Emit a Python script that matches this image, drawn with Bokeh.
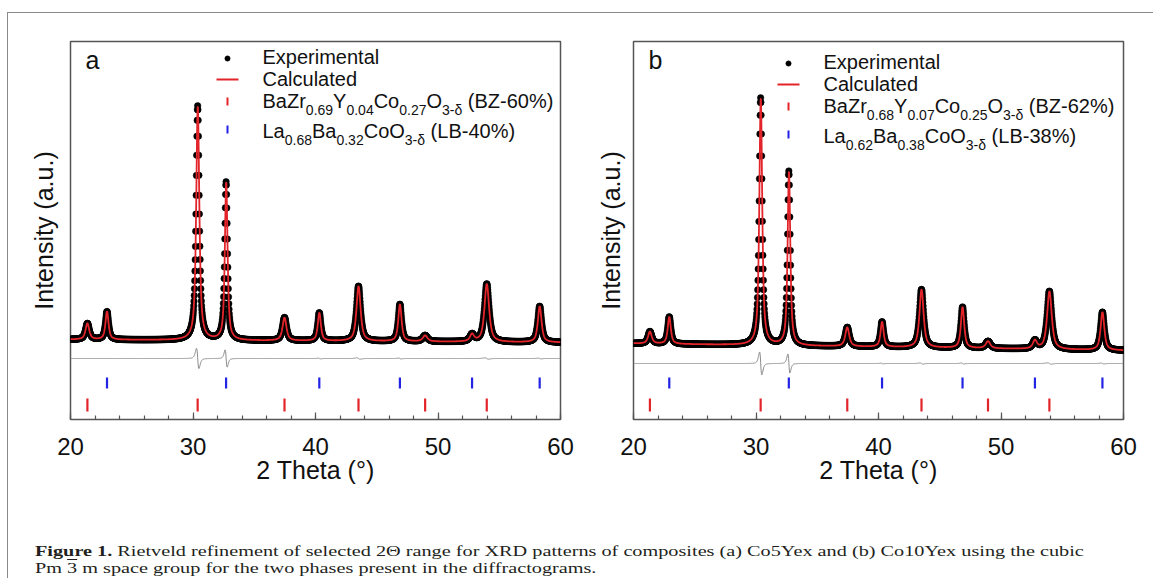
import numpy as np
from bokeh.plotting import figure
from bokeh.models import Range1d, FixedTicker, Div
from bokeh.layouts import row, column
from bokeh.core.properties import value
from bokeh.embed import file_html
from bokeh.resources import INLINE

# ------------------------------------------------------------------ data
two_theta_start, two_theta_end, two_theta_step = 20.0, 60.0, 0.02
x_ticks = [20, 30, 40, 50, 60]
x_minor_ticks = list(range(20, 61, 2))

# panel a : Co5Yex  (peak position [deg], height above background [a.u.], FWHM [deg])
a_bz_pos = [21.38, 30.38, 37.47, 43.51, 48.95, 53.98]
a_bz_height = [16, 234, 23, 55, 6, 58]
a_bz_fwhm = [0.36, 0.30, 0.38, 0.40, 0.45, 0.45]
a_bz_misfit = [0.0, 0.010, 0.0, 0.004, 0.0, 0.004]
a_lb_pos = [22.98, 32.70, 40.31, 46.89, 52.78, 58.30]
a_lb_height = [28, 158, 28, 37, 7, 36]
a_lb_fwhm = [0.30, 0.26, 0.30, 0.32, 0.40, 0.36]
a_lb_misfit = [0.0, 0.011, 0.003, 0.003, 0.0, 0.003]
a_background = [0.0, -3.0]          # at 20 deg and 60 deg
a_diff_offset = -19.0

# panel b : Co10Yex
b_bz_pos = [21.34, 30.38, 37.45, 43.51, 48.94, 53.95]
b_bz_height = [12, 247, 19, 58, 7, 58]
b_bz_fwhm = [0.36, 0.28, 0.38, 0.40, 0.45, 0.45]
b_bz_misfit = [0.0, 0.010, 0.0, 0.003, 0.0, 0.004]
b_lb_pos = [22.92, 32.68, 40.29, 46.86, 52.77, 58.28]
b_lb_height = [27, 174, 25, 41, 8, 38]
b_lb_fwhm = [0.30, 0.26, 0.30, 0.32, 0.40, 0.36]
b_lb_misfit = [0.0, 0.011, 0.003, 0.003, 0.0, 0.003]
b_background = [-4.0, -11.0]
b_diff_offset = -24.0

# legend texts (text piece, is_subscript)
a_bz_label = [("BaZr", 0), ("0.69", 1), ("Y", 0), ("0.04", 1), ("Co", 0), ("0.27", 1), ("O", 0), ("3-δ", 1), (" (BZ-60%)", 0)]
a_lb_label = [("La", 0), ("0.68", 1), ("Ba", 0), ("0.32", 1), ("CoO", 0), ("3-δ", 1), (" (LB-40%)", 0)]
b_bz_label = [("BaZr", 0), ("0.68", 1), ("Y", 0), ("0.07", 1), ("Co", 0), ("0.25", 1), ("O", 0), ("3-δ", 1), (" (BZ-62%)", 0)]
b_lb_label = [("La", 0), ("0.62", 1), ("Ba", 0), ("0.38", 1), ("CoO", 0), ("3-δ", 1), (" (LB-38%)", 0)]

caption_line1 = ("Rietveld refinement of selected 2Θ range for XRD patterns of composites "
                 "(a) Co5Yex and (b) Co10Yex using the cubic")
caption_line2 = "space group for the two phases present in the diffractograms."

# ------------------------------------------------------------------ style
FONT = "Liberation Sans"
RED = "#e3252b"
BLUE = "#2323e6"
FRAME = "#555555"
FRAME_W, FRAME_H = 490, 378
Y_START, Y_END = -80.0, 298.0
PX_PER_DEG = FRAME_W / (two_theta_end - two_theta_start)
LEG_FS, SUB_FS = 20, 14
MID = 0.3465   # em-box middle above the alphabetic baseline

EM = {' ': 0.278, '(': 0.333, ')': 0.333, '-': 0.333, '.': 0.278, '%': 0.889,
      'B': 0.667, 'Z': 0.611, 'Y': 0.667, 'C': 0.722, 'O': 0.778, 'L': 0.556,
      'E': 0.667, 'a': 0.556, 'r': 0.333, 'o': 0.556, 'x': 0.5, 'p': 0.556,
      'e': 0.556, 'i': 0.222, 'm': 0.833, 'n': 0.556, 't': 0.278, 'l': 0.222,
      'c': 0.5, 'u': 0.556, 'd': 0.556, 'δ': 0.556}


def text_width(s, fs):
    return sum(EM.get(ch, 0.556) for ch in s) * fs


def profile(x, pos, height, fwhm, shift=None, eta=0.75):
    y = np.zeros_like(x)
    for i, (p0, h, w) in enumerate(zip(pos, height, fwhm)):
        c = p0 + (shift[i] if shift is not None else 0.0)
        u = (x - c) / w
        y += h * (eta / (1 + 4 * u ** 2) + (1 - eta) * np.exp(-4 * np.log(2) * u ** 2))
    return y


def make_panel(letter, bz, lb, background, diff_offset, bz_label, lb_label,
               border_left, border_right, ylab_standoff, legend_dy, mx, tx):
    (bz_pos, bz_h, bz_w, bz_mis) = bz
    (lb_pos, lb_h, lb_w, lb_mis) = lb
    x = np.arange(two_theta_start, two_theta_end + 1e-9, two_theta_step)
    bg = np.interp(x, [two_theta_start, two_theta_end], background)
    y_exp = bg + profile(x, bz_pos, bz_h, bz_w) + profile(x, lb_pos, lb_h, lb_w)
    y_calc = bg + profile(x, bz_pos, bz_h, bz_w, bz_mis) + profile(x, lb_pos, lb_h, lb_w, lb_mis)
    y_diff = y_exp - y_calc + diff_offset

    p = figure(frame_width=FRAME_W, frame_height=FRAME_H,
               x_range=Range1d(two_theta_start, two_theta_end),
               y_range=Range1d(Y_START, Y_END),
               output_backend="svg", toolbar_location=None,
               min_border_left=border_left, min_border_right=border_right,
               min_border_top=28, min_border_bottom=78)
    p.grid.visible = False
    p.outline_line_color = FRAME
    p.outline_line_width = 1.5
    p.background_fill_color = "white"
    p.border_fill_color = "white"

    xa = p.xaxis[0]
    xa.ticker = FixedTicker(ticks=x_ticks, minor_ticks=x_minor_ticks)
    xa.axis_line_color = None
    xa.major_tick_in = 7
    xa.major_tick_out = 0
    xa.minor_tick_in = 4
    xa.minor_tick_out = 0
    xa.major_tick_line_color = FRAME
    xa.major_tick_line_width = 1.2
    xa.minor_tick_line_color = FRAME
    xa.minor_tick_line_width = 1.2
    xa.major_label_text_font = FONT
    xa.major_label_text_font_size = "24px"
    xa.major_label_text_color = "#111111"
    xa.major_label_standoff = 18
    xa.axis_label = "2 Theta (°)"
    xa.axis_label_text_font = FONT
    xa.axis_label_text_font_size = "25px"
    xa.axis_label_text_font_style = "normal"
    xa.axis_label_text_color = "#111111"
    xa.axis_label_standoff = -2

    ya = p.yaxis[0]
    ya.ticker = FixedTicker(ticks=[])
    ya.axis_line_color = None
    ya.major_tick_line_color = None
    ya.minor_tick_line_color = None
    ya.major_label_standoff = 0
    ya.major_tick_out = 0
    ya.axis_label = "Intensity (a.u.)"
    ya.axis_label_text_font = FONT
    ya.axis_label_text_font_size = "25px"
    ya.axis_label_text_font_style = "normal"
    ya.axis_label_text_color = "#111111"
    ya.axis_label_standoff = ylab_standoff

    # difference curve
    p.line(x, y_diff, line_color="#8a8a8a", line_width=1)
    # experimental points and calculated profile
    p.scatter(x, y_exp, size=6.5, fill_color="black", line_color="black", line_width=0.5)
    p.line(x, y_calc, line_color=RED, line_width=1.8)
    # Bragg position markers
    p.segment(x0=lb_pos, y0=[-49] * len(lb_pos), x1=lb_pos, y1=[-38] * len(lb_pos),
              line_color=BLUE, line_width=2.2)
    p.segment(x0=bz_pos, y0=[-72] * len(bz_pos), x1=bz_pos, y1=[-59] * len(bz_pos),
              line_color=RED, line_width=2.2)

    # helpers: pixel offsets inside the frame -> data units
    def fx(px):
        return two_theta_start + px / PX_PER_DEG

    def fy(py):
        return Y_END - py

    def put_text(px, baseline_py, s, fs):
        lead = len(s) - len(s.lstrip(" "))
        px += lead * EM[' '] * fs
        p.text(x=[fx(px)], y=[fy(baseline_py - MID * fs)], text=[s.lstrip(" ")],
               text_font=value(FONT), text_font_size=f"{fs}px", text_color="#111111",
               text_baseline="alphabetic", text_align="left")

    # panel letter
    put_text(15, 27, letter, 25)

    # legend
    rows = [22 + legend_dy, 44 + legend_dy, 66 + legend_dy, 96 + legend_dy]
    p.scatter([fx(mx)], [fy(rows[0] - 5)], size=5, color="black")
    p.segment(x0=[fx(mx - 11)], y0=[fy(rows[1] - 6)], x1=[fx(mx + 11)], y1=[fy(rows[1] - 6)],
              line_color=RED, line_width=2)
    p.segment(x0=[fx(mx)], y0=[fy(rows[2] - 10)], x1=[fx(mx)], y1=[fy(rows[2] - 2)],
              line_color=RED, line_width=2)
    p.segment(x0=[fx(mx)], y0=[fy(rows[3] - 12)], x1=[fx(mx)], y1=[fy(rows[3] - 4)],
              line_color=BLUE, line_width=2)

    put_text(tx, rows[0], "Experimental", LEG_FS)
    put_text(tx, rows[1], "Calculated", LEG_FS)
    for r, pieces in [(rows[2], bz_label), (rows[3], lb_label)]:
        cur = tx
        for s, sub in pieces:
            fs = SUB_FS if sub else LEG_FS
            put_text(cur, r + (7 if sub else 0), s, fs)
            cur += text_width(s, fs)
    return p


pa = make_panel("a", (a_bz_pos, a_bz_height, a_bz_fwhm, a_bz_misfit),
                (a_lb_pos, a_lb_height, a_lb_fwhm, a_lb_misfit),
                a_background, a_diff_offset, a_bz_label, a_lb_label,
                62, 20, 13, 0, 157, 192)
pb = make_panel("b", (b_bz_pos, b_bz_height, b_bz_fwhm, b_bz_misfit),
                (b_lb_pos, b_lb_height, b_lb_fwhm, b_lb_misfit),
                b_background, b_diff_offset, b_bz_label, b_lb_label,
                53, 29, 9, 5, 155, 190)

cap_html = (
    '<div style="position:relative; left:22px; top:41px; font-family:\'Liberation Serif\'; '
    'font-size:15px; line-height:17px; color:#231f20; white-space:nowrap; '
    'transform:scaleX(1.35); transform-origin:0 0;">'
    '<b>Figure 1.</b> ' + caption_line1 + '<br>'
    'Pm <span style="text-decoration:overline">3</span> m ' + caption_line2 + '</div>'
)
cap = Div(text=cap_html, width=1144, height=80, styles={"overflow": "visible"})

layout = column(row(pa, pb), cap,
                styles={"border-top": "1.5px solid #8a8a8a", "border-left": "1.5px solid #8a8a8a",
                        "margin-top": "12px", "margin-left": "7px"})

open("out.html", "w").write(file_html(layout, INLINE))
